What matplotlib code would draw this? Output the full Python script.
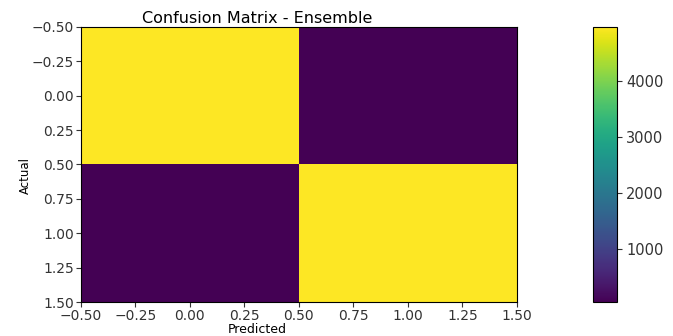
import numpy as np
import matplotlib
matplotlib.use("Agg")
import matplotlib.pyplot as plt

# confusion matrix values
labels = [0, 1]
cm = np.array([[4960, 60],
               [70, 4950]])

fig = plt.figure(figsize=(6.73, 3.36), dpi=100)
ax = fig.add_axes([0.120, 0.101, 0.648, 0.819])
cax = fig.add_axes([0.881, 0.101, 0.036, 0.819])

im = ax.imshow(cm, cmap="viridis", aspect="auto", interpolation="nearest")
ax.set_title("Confusion Matrix - Ensemble", fontsize=11.5, pad=3, x=0.404)
ax.set_xlabel("Predicted", fontsize=9, labelpad=0, x=0.405)
ax.set_ylabel("Actual", fontsize=8.5, labelpad=0, y=0.46)
ax.tick_params(labelsize=10, pad=1.5, colors="#333333", labelcolor="#333333")

cb = fig.colorbar(im, cax=cax)
cb.ax.tick_params(labelsize=10.5, pad=3, colors="#333333", labelcolor="#333333")

fig.savefig("out.png", dpi=100)
